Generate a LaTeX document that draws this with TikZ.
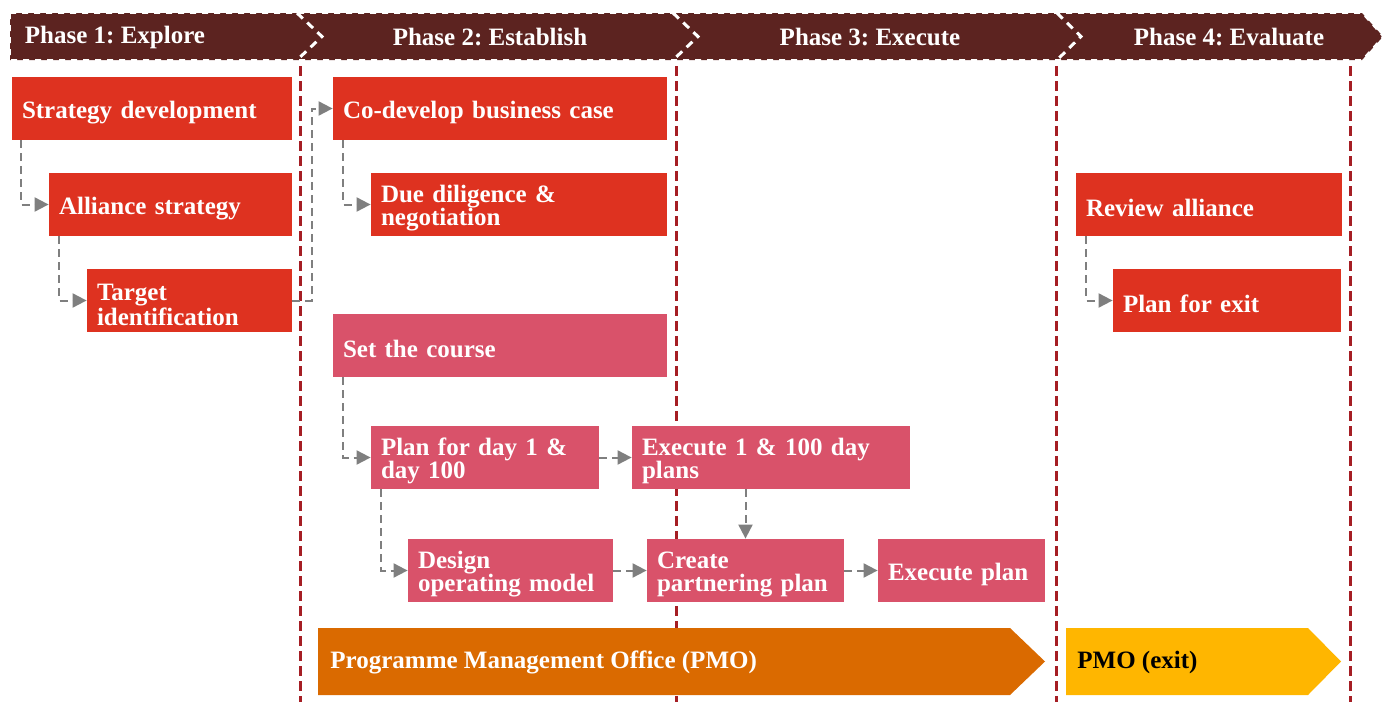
\documentclass[tikz,border=0pt]{standalone}
\usepackage{fontspec}
\setmainfont{Liberation Serif}
\usetikzlibrary{arrows.meta}
\definecolor{hdr}{HTML}{5C2320}
\definecolor{pred}{HTML}{DE3220}
\definecolor{ppink}{HTML}{D9526A}
\definecolor{porange}{HTML}{DA6A00}
\definecolor{pyellow}{HTML}{FFB600}
\definecolor{vline}{HTML}{A51E24}
\definecolor{conng}{HTML}{7F7F7F}
\frenchspacing
\tikzset{
  box/.style={rectangle, fill=pred, text=white, font=\fontsize{12.5}{11.5}\selectfont\bfseries\frenchspacing, align=left, inner xsep=5pt, inner ysep=0pt, minimum height=31.5pt, execute at begin node={\rule{0pt}{12.5pt}}},
  pbox/.style={box, fill=ppink},
  conn/.style={draw=conng, line width=1pt, dash pattern=on 4pt off 2.5pt, -{Triangle[length=7pt,width=7pt]}},
  vdash/.style={draw=vline, line width=1.5pt, dash pattern=on 5pt off 2.5pt},
  sep/.style={draw=white, line width=1.5pt, dash pattern=on 4pt off 3pt},
  phase/.style={text=white, font=\fontsize{12.5}{14}\selectfont\bfseries\frenchspacing, inner sep=0pt},
  pmo/.style={font=\fontsize{12.5}{14}\selectfont\bfseries\frenchspacing, inner sep=0pt, anchor=west}
}
\begin{document}
\begin{tikzpicture}[x=0.5pt,y=-0.5pt]
\useasboundingbox (0,0) rectangle (1388,702);
% header
\fill[hdr] (10,13) -- (1362,13) -- (1383,36.5) -- (1362,60) -- (10,60) -- cycle;
\draw[white, line width=0.8pt, dash pattern=on 3pt off 3pt] (10,13) -- (1362,13) -- (1383,36.5) -- (1362,60) -- (10,60) -- cycle;
\draw[sep] (297,13) -- (322,36.5) -- (297,60);
\draw[sep] (673,13) -- (698,36.5) -- (673,60);
\draw[sep] (1057,13) -- (1081,36.5) -- (1057,60);
\node[phase] (p1) at (115,37.5) {Phase 1: Explore};
\node[phase] (p2) at (490,37.5) {Phase 2: Establish};
\node[phase] (p3) at (870,37.5) {Phase 3: Execute};
\node[phase] (p4) at (1229,37.5) {Phase 4: Evaluate};
% vertical dashed lines
\draw[vdash] (300,66) -- (300,702);
\draw[vdash] (676,66) -- (676,702);
\draw[vdash] (1056,66) -- (1056,702);
\draw[vdash] (1350,66) -- (1350,702);
% boxes
\node[box, text width=130pt] (sd) at (152,108.5) {Strategy development};
\node[box, text width=111.5pt] (as) at (170.5,204.5) {Alliance strategy};
\node[box, text width=92.5pt] (ti) at (189.5,300.5) {Target\\identification};
\node[box, text width=157pt] (cd) at (500,108.5) {Co-develop business case};
\node[box, text width=138pt] (dd) at (519,204.5) {Due diligence \&\\negotiation};
\node[pbox, text width=157pt] (sc) at (500,345.5) {Set the course};
\node[pbox, text width=104pt] (pd) at (485,457.5) {Plan for day 1 \&\\day 100};
\node[pbox, text width=129pt] (ex) at (771,457.5) {Execute 1 \& 100 day\\plans};
\node[pbox, text width=92.5pt] (dm) at (510.5,570.5) {Design\\operating model};
\node[pbox, text width=88.5pt] (cp) at (745.5,570.5) {Create\\partnering plan};
\node[pbox, text width=73.5pt] (ep) at (961.5,570.5) {Execute plan};
\node[box, text width=123pt] (ra) at (1209,204.5) {Review alliance};
\node[box, text width=104pt] (pe) at (1227,300.5) {Plan for exit};
% connectors
\draw[conn] ([xshift=4.5pt]sd.south west) |- (as.west);
\draw[conn] ([xshift=5pt]as.south west) |- (ti.west);
\coordinate (tc) at (312,300.5);
\draw[conn] (ti.east) -- (tc) |- (cd.west);
\draw[conn] ([xshift=5pt]cd.south west) |- (dd.west);
\draw[conn] ([xshift=5pt]sc.south west) |- (pd.west);
\draw[conn] (pd.east) -- (ex.west);
\draw[conn] ([xshift=5pt]pd.south west) |- (dm.west);
\draw[conn] (dm.east) -- (cp.west);
\draw[conn] (ex.south -| cp.north) -- (cp.north);
\draw[conn] (cp.east) -- (ep.west);
\draw[conn] ([xshift=5pt]ra.south west) |- (pe.west);
% PMO arrows
\fill[porange] (318,628) -- (1010,628) -- (1045,661.5) -- (1010,695) -- (318,695) -- cycle;
\node[pmo, text=white] (pmo) at (330,662) {Programme Management Office (PMO)};
\fill[pyellow] (1066,628) -- (1308,628) -- (1341,661.5) -- (1308,695) -- (1066,695) -- cycle;
\node[pmo, text=black] (pmox) at (1077,662) {PMO (exit)};
\end{tikzpicture}
\end{document}
